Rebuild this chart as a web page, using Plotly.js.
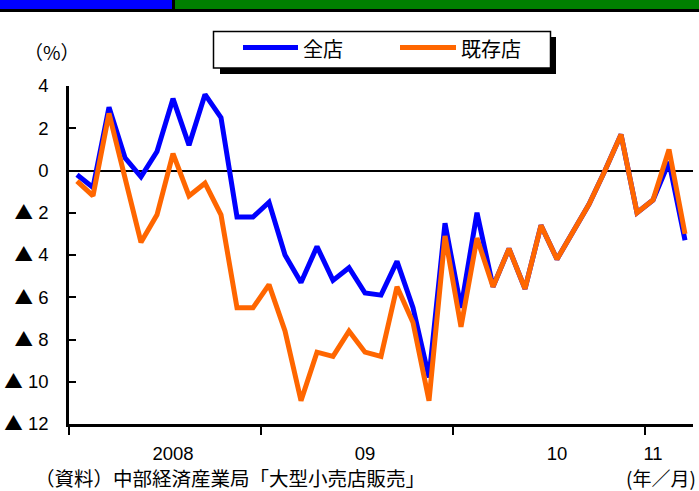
<!DOCTYPE html>
<html>
<head>
<meta charset="utf-8">
<script src="https://cdn.plot.ly/plotly-3.0.1.min.js"></script>
<style>
  html, body { margin: 0; padding: 0; background: #ffffff; }
  #chart { width: 699px; height: 491px; }
</style>
</head>
<body>
<div id="chart"></div>
<script>
// Monthly series, January 2008 to March 2011 (year-on-year change, %)
const months = [
  '2008/1','2008/2','2008/3','2008/4','2008/5','2008/6','2008/7','2008/8','2008/9','2008/10','2008/11','2008/12',
  '2009/1','2009/2','2009/3','2009/4','2009/5','2009/6','2009/7','2009/8','2009/9','2009/10','2009/11','2009/12',
  '2010/1','2010/2','2010/3','2010/4','2010/5','2010/6','2010/7','2010/8','2010/9','2010/10','2010/11','2010/12',
  '2011/1','2011/2','2011/3'
];
const allStores = [
  -0.2, -0.8, 3.0, 0.6, -0.3, 0.9, 3.4, 1.2, 3.6, 2.5, -2.2, -2.2,
  -1.5, -4.0, -5.3, -3.6, -5.2, -4.6, -5.8, -5.9, -4.3, -6.5, -9.8, -2.5,
  -6.5, -2.0, -5.5, -3.7, -5.6, -2.6, -4.2, -2.9, -1.6, 0.0, 1.7, -2.0,
  -1.4, 0.4, -3.3
];
const existingStores = [
  -0.5, -1.2, 2.7, -0.4, -3.4, -2.1, 0.8, -1.2, -0.6, -2.1, -6.5, -6.5,
  -5.4, -7.6, -10.9, -8.6, -8.8, -7.6, -8.6, -8.8, -5.5, -7.2, -10.9, -3.1,
  -7.4, -3.2, -5.5, -3.7, -5.6, -2.6, -4.2, -2.9, -1.6, 0.0, 1.7, -2.0,
  -1.4, 1.0, -3.0
];
const seriesNames = ['全店', '既存店'];
const seriesColors = ['#0000ff', '#ff6600'];

// Year boundaries sit between December and January; year labels sit mid-year
const yearBoundaries = [-0.5, 11.5, 23.5, 35.5];
const yearLabelPos = [6, 18, 30, 36];
const yearLabels = ['2008', '09', '10', '11'];

// Negative values are written with a black triangle
const yTickVals = [4, 2, 0, -2, -4, -6, -8, -10, -12];
const TRI = '<span style="font-family:Noto Sans CJK JP">▲</span> ';
const yTickText = ['4', '2', '0', TRI + '2', TRI + '4', TRI + '6', TRI + '8', TRI + '10', TRI + '12'];

const W = 699, H = 491;
const M = { l: 69, r: 6, t: 86, b: 67 };
const PW = W - M.l - M.r, PH = H - M.t - M.b;
const px = p => (p - M.l) / PW;          // page pixel -> paper x
const py = p => (H - M.b - p) / PH;      // page pixel -> paper y

const idx = months.map((m, i) => i);
const CJK = '"Noto Sans CJK JP", sans-serif';
const NUM = '"Liberation Sans", "Noto Sans CJK JP", sans-serif';

const traces = [
  { x: idx, y: allStores, name: seriesNames[0], text: months, type: 'scatter', mode: 'lines',
    line: { color: seriesColors[0], width: 5 }, hovertemplate: '%{text}: %{y}<extra>' + seriesNames[0] + '</extra>' },
  { x: idx, y: existingStores, name: seriesNames[1], text: months, type: 'scatter', mode: 'lines',
    line: { color: seriesColors[1], width: 5 }, hovertemplate: '%{text}: %{y}<extra>' + seriesNames[1] + '</extra>' }
];

const shapes = [
  // header band
  { type: 'rect', xref: 'paper', yref: 'paper', x0: px(0), x1: px(W), y0: py(12), y1: py(0),
    fillcolor: '#000000', line: { width: 0 } },
  { type: 'rect', xref: 'paper', yref: 'paper', x0: px(0), x1: px(172), y0: py(9), y1: py(0),
    fillcolor: '#0000ff', line: { width: 0 } },
  { type: 'rect', xref: 'paper', yref: 'paper', x0: px(175), x1: px(W), y0: py(9), y1: py(0),
    fillcolor: '#008000', line: { width: 0 } },
  // legend box with drop shadow
  { type: 'rect', xref: 'paper', yref: 'paper', x0: px(220), x1: px(556), y0: py(74), y1: py(37),
    fillcolor: '#000000', line: { width: 0 } },
  { type: 'rect', xref: 'paper', yref: 'paper', x0: px(213.5), x1: px(550.5), y0: py(68), y1: py(31.5),
    fillcolor: '#ffffff', line: { color: '#000000', width: 1.5 } },
  // legend keys
  { type: 'line', xref: 'paper', yref: 'paper', x0: px(243), x1: px(298), y0: py(47.5), y1: py(47.5),
    line: { color: seriesColors[0], width: 5 } },
  { type: 'line', xref: 'paper', yref: 'paper', x0: px(400), x1: px(456), y0: py(47.5), y1: py(47.5),
    line: { color: seriesColors[1], width: 5 } }
];

const annotations = [
  { text: seriesNames[0], xref: 'paper', yref: 'paper', x: px(301), y: py(48), xanchor: 'left', yanchor: 'middle',
    showarrow: false, font: { family: CJK, size: 20, color: '#000' } },
  { text: seriesNames[1], xref: 'paper', yref: 'paper', x: px(459), y: py(48), xanchor: 'left', yanchor: 'middle',
    showarrow: false, font: { family: CJK, size: 20, color: '#000' } },
  { text: '（%）', xref: 'paper', yref: 'paper', x: px(22), y: py(52), xanchor: 'left', yanchor: 'middle',
    showarrow: false, font: { family: CJK, size: 19, color: '#000' } },
  { text: '（資料）中部経済産業局「大型小売店販売」', xref: 'paper', yref: 'paper', x: px(33), y: py(477),
    xanchor: 'left', yanchor: 'middle', showarrow: false,
    font: { family: CJK, size: 19.5, color: '#000' } },
  { text: '(年／月)', xref: 'paper', yref: 'paper', x: px(698), y: py(477),
    xanchor: 'right', yanchor: 'middle', showarrow: false,
    font: { family: CJK, size: 19, color: '#000' } }
];

const layout = {
  width: W, height: H,
  margin: M,
  paper_bgcolor: '#ffffff', plot_bgcolor: '#ffffff',
  showlegend: false,
  hovermode: 'closest',
  xaxis: {
    range: [-0.5, months.length - 0.5], showgrid: false, zeroline: false,
    showline: true, linecolor: '#000', linewidth: 2.5,
    tickmode: 'array', tickvals: yearLabelPos, ticktext: yearLabels,
    ticks: '', ticklabelstandoff: 11,
    tickfont: { family: NUM, size: 18.5, color: '#000' },
    minor: {
      tickmode: 'array', tickvals: yearBoundaries,
      ticks: 'outside', ticklen: 8, tickwidth: 2, tickcolor: '#000', showgrid: false
    }
  },
  yaxis: {
    range: [-12, 4], showgrid: false,
    zeroline: true, zerolinecolor: '#000', zerolinewidth: 2,
    showline: true, linecolor: '#000', linewidth: 2.5,
    tickmode: 'array', tickvals: yTickVals, ticktext: yTickText,
    ticks: 'inside', ticklen: 7, tickwidth: 2, tickcolor: '#000',
    ticklabelstandoff: 14,
    tickfont: { family: NUM, size: 18.5, color: '#000' }
  },
  shapes: shapes,
  annotations: annotations
};

Plotly.newPlot('chart', traces, layout, { displayModeBar: false, responsive: false });
</script>
</body>
</html>
